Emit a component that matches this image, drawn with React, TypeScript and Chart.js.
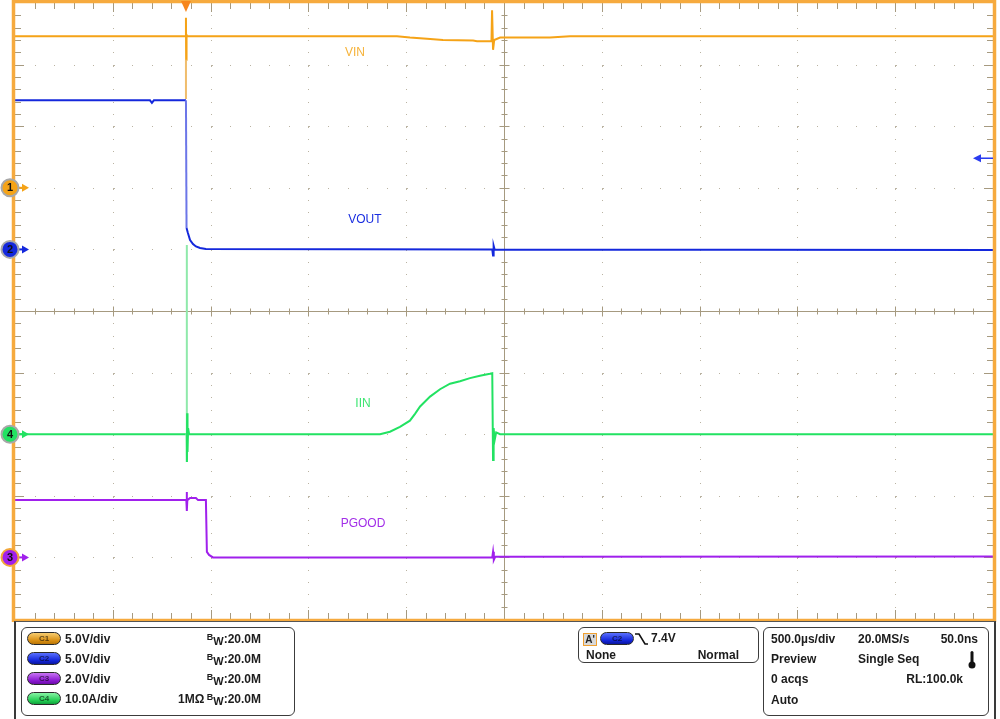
import React, { useEffect, useRef } from "react";
import { Chart, registerables } from "chart.js";

Chart.register(...registerables);

// Horizontal: 500 µs/div, 10 divisions; time measured from the left edge of the screen
const US_PER_DIV = 500;
const X_DIVS = 10;
const Y_DIVS = 10;

const TRIGGER_TIME_US = 874;
const TRIGGER_LEVEL_V = 7.4; // trigger on C2

// Channels C1..C4
const channelNames = ["VIN", "VOUT", "PGOOD", "IIN"];
const channelScale = [5, 5, 2, 10]; // V/div, V/div, V/div, A/div
const channelOffset = [2, 1, -4, -2]; // divisions

// C1 VIN (V)
const vinTime = [0, 872, 874, 875, 877, 880, 1953, 2019, 2106, 2188, 2342, 2362, 2428, 2436, 2439, 2444, 2450, 2480, 2735, 2837, 5000];
const vinVolts = [12.3, 12.3, 13.8, 10.4, 12.4, 12.3, 12.3, 12.2, 12.1, 12.0, 11.95, 11.9, 11.9, 11.9, 14.4, 11.2, 12.0, 12.2, 12.2, 12.3, 12.3];
const vinEdgeTime = [874, 874];
const vinEdgeVolts = [10.4, 7.2];

// C2 VOUT (V)
const voutTime = [0, 690, 700, 710, 874, 877, 884, 895, 910, 925, 946, 976, 2440, 2444, 2447, 2452, 5000];
const voutVolts = [12.1, 12.1, 11.9, 12.1, 12.1, 1.74, 1.33, 0.76, 0.44, 0.24, 0.11, 0.03, 0.0, -0.5, 0.3, 0.0, -0.05];

// C3 PGOOD (V)
const pgoodTime = [0, 876, 878, 879, 881, 895, 925, 936, 976, 981, 992, 1012, 2440, 2444, 2448, 2455, 5000];
const pgoodVolts = [1.86, 1.86, 2.12, 1.51, 1.86, 1.93, 1.93, 1.86, 1.86, 0.18, 0.08, 0.0, 0.0, 0.18, -0.08, 0.02, 0.03];

// C4 IIN (A)
const iinTime = [0, 876, 878, 879, 880, 882, 885, 890, 1866, 1917, 1968, 2019, 2045, 2071, 2122, 2173, 2224, 2275, 2326, 2377, 2428, 2440, 2444, 2447, 2452, 2460, 2480, 5000];
const iinAmps = [0, 0, 30.7, -4.5, 3.4, -2.9, 1.0, 0, 0, 0.4, 1.2, 2.2, 3.3, 4.5, 6.1, 7.3, 8.2, 8.6, 9.1, 9.5, 9.8, 9.9, -4.2, 1.0, -1.0, 0.3, 0, 0];

const traceColor = ["#f5a317", "#1428dc", "#a020ec", "#22e262"];
const edgeColor = ["#f0bd6c", "#6c76e8", "#c47cf0", "#8fe9aa"];
const markerRing = ["#a8a8a8", "#a8a8a8", "#f2a83a", "#a8a8a8"];

// label placement (time µs, divisions)
const labelTime = [1738, 1789, 1779, 1779];
const labelDiv = [4.2, 1.49, -3.46, -1.51];

const toDiv = (ch: number, v: number) => v / channelScale[ch] + channelOffset[ch];
const series = (ch: number, t: number[], v: number[]) => t.map((x, i) => ({ x, y: toDiv(ch, v[i]) }));

const FONT = 'Arial, "Liberation Sans", sans-serif';

const scopePlugin = {
  id: "scope",
  beforeDatasetsDraw(chart: any) {
    const { ctx, chartArea: a, scales } = chart;
    const xs = scales.x;
    const ys = scales.y;
    const px = (d: number) => xs.getPixelForValue(d * US_PER_DIV);
    const py = (d: number) => ys.getPixelForValue(d);
    ctx.save();
    ctx.fillStyle = "#bab3a2";
    for (let i = 1; i < X_DIVS; i++) {
      if (i === 5) continue;
      const x = Math.round(px(i));
      for (let j = 1; j < Y_DIVS * 5; j++) {
        const y = Math.round(py(-5 + j / 5));
        ctx.fillRect(x, y, j % 5 === 0 ? 2 : 1, 1);
      }
    }
    for (let k = 1; k < Y_DIVS; k++) {
      if (k === 5) continue;
      const y = Math.round(py(-5 + k));
      for (let j = 1; j < X_DIVS * 5; j++) {
        const x = Math.round(px(j / 5));
        ctx.fillRect(x, y, 1, j % 5 === 0 ? 2 : 1);
      }
    }
    // center crosshair
    const cx = Math.round(px(5)) + 0.5;
    const cy = Math.round(py(0)) + 0.5;
    ctx.strokeStyle = "#a69a80";
    ctx.lineWidth = 1;
    ctx.beginPath();
    ctx.moveTo(cx, a.top);
    ctx.lineTo(cx, a.bottom);
    ctx.moveTo(a.left, cy);
    ctx.lineTo(a.right, cy);
    for (let j = 1; j < Y_DIVS * 5; j++) {
      const y = Math.round(py(-5 + j / 5)) + 0.5;
      const len = j % 5 === 0 ? 5 : 3;
      ctx.moveTo(cx - len, y);
      ctx.lineTo(cx + len, y);
    }
    for (let j = 1; j < X_DIVS * 5; j++) {
      const x = Math.round(px(j / 5)) + 0.5;
      const len = j % 5 === 0 ? 5 : 3;
      ctx.moveTo(x, cy - len);
      ctx.lineTo(x, cy + len);
    }
    // edge ticks
    for (let j = 1; j < Y_DIVS * 5; j++) {
      const y = Math.round(py(-5 + j / 5)) + 0.5;
      const len = j % 5 === 0 ? 9 : 6;
      ctx.moveTo(a.left, y);
      ctx.lineTo(a.left + len, y);
      ctx.moveTo(a.right, y);
      ctx.lineTo(a.right - len, y);
    }
    for (let j = 1; j < X_DIVS * 5; j++) {
      const x = Math.round(px(j / 5)) + 0.5;
      const len = j % 5 === 0 ? 9 : 6;
      ctx.moveTo(x, a.top);
      ctx.lineTo(x, a.top + len);
      ctx.moveTo(x, a.bottom);
      ctx.lineTo(x, a.bottom - len);
    }
    ctx.stroke();
    ctx.restore();
  },
  afterDraw(chart: any) {
    const { ctx, chartArea: a, scales } = chart;
    const xs = scales.x;
    const ys = scales.y;
    ctx.save();
    // orange graticule frame
    ctx.strokeStyle = "#f6aa3e";
    ctx.lineWidth = 3.5;
    ctx.strokeRect(a.left - 1.5, a.top - 1.5, a.right - a.left + 3, a.bottom - a.top + 3);

    // trace labels
    ctx.font = `12px ${FONT}`;
    ctx.textAlign = "center";
    ctx.textBaseline = "middle";
    const labelColors = ["#f6b33a", "#1a2ee0", "#a22ee8", "#3fe673"];
    for (let ch = 0; ch < 4; ch++) {
      ctx.fillStyle = labelColors[ch];
      ctx.fillText(channelNames[ch], xs.getPixelForValue(labelTime[ch]), ys.getPixelForValue(labelDiv[ch]));
    }

    // trigger position marker (top)
    const tx = xs.getPixelForValue(TRIGGER_TIME_US);
    ctx.fillStyle = "#f7861c";
    ctx.beginPath();
    ctx.moveTo(tx - 5, a.top - 2);
    ctx.lineTo(tx + 5, a.top - 2);
    ctx.lineTo(tx, a.top + 9);
    ctx.closePath();
    ctx.fill();

    // trigger level marker (right, C2)
    const ty = ys.getPixelForValue(toDiv(1, TRIGGER_LEVEL_V));
    ctx.strokeStyle = "#2a3cf0";
    ctx.fillStyle = "#2a3cf0";
    ctx.lineWidth = 1.5;
    ctx.beginPath();
    ctx.moveTo(a.right - 12, ty);
    ctx.lineTo(a.right, ty);
    ctx.stroke();
    ctx.beginPath();
    ctx.moveTo(a.right - 20, ty);
    ctx.lineTo(a.right - 12, ty - 4);
    ctx.lineTo(a.right - 12, ty + 4);
    ctx.closePath();
    ctx.fill();

    // channel ground markers (left)
    const mx = 10;
    for (let ch = 0; ch < 4; ch++) {
      const y = ys.getPixelForValue(channelOffset[ch]);
      ctx.strokeStyle = traceColor[ch];
      ctx.fillStyle = traceColor[ch];
      ctx.lineWidth = 2;
      ctx.beginPath();
      ctx.moveTo(mx + 8, y);
      ctx.lineTo(mx + 14, y);
      ctx.stroke();
      ctx.beginPath();
      ctx.moveTo(mx + 12, y - 4);
      ctx.lineTo(mx + 19, y);
      ctx.lineTo(mx + 12, y + 4);
      ctx.closePath();
      ctx.fill();
      ctx.beginPath();
      ctx.arc(mx, y, 8.5, 0, Math.PI * 2);
      ctx.fillStyle = traceColor[ch];
      ctx.fill();
      ctx.lineWidth = 2;
      ctx.strokeStyle = markerRing[ch];
      ctx.stroke();
      ctx.fillStyle = "#111";
      ctx.font = `bold 11px ${FONT}`;
      ctx.textAlign = "center";
      ctx.textBaseline = "middle";
      ctx.fillText(String(ch + 1), mx, y + 0.5);
    }
    ctx.restore();
  },
};

function ScopeChart() {
  const ref = useRef<HTMLCanvasElement | null>(null);
  useEffect(() => {
    if (!ref.current) return;
    const mk = (ch: number, data: any[], color: string, edge: string) => ({
      data,
      borderColor: color,
      borderWidth: 2,
      pointRadius: 0,
      tension: 0,
      fill: false,
      segment: {
        borderColor: (c: any) => (Math.abs(c.p0.y - c.p1.y) > 100 ? edge : color),
      },
    });
    const chart = new Chart(ref.current, {
      type: "line",
      data: {
        datasets: [
          mk(0, series(0, vinEdgeTime, vinEdgeVolts), edgeColor[0], edgeColor[0]),
          mk(0, series(0, vinTime, vinVolts), traceColor[0], edgeColor[0]),
          mk(1, series(1, voutTime, voutVolts), traceColor[1], edgeColor[1]),
          mk(3, series(3, iinTime, iinAmps), traceColor[3], edgeColor[3]),
          mk(2, series(2, pgoodTime, pgoodVolts), traceColor[2], edgeColor[2]),
        ],
      },
      options: {
        responsive: false,
        animation: false,
        events: [],
        layout: { padding: { left: 15, right: 7, top: 3, bottom: 3 } },
        plugins: { legend: { display: false }, tooltip: { enabled: false }, title: { display: false } },
        scales: {
          x: { type: "linear", min: 0, max: US_PER_DIV * X_DIVS, display: false },
          y: { type: "linear", min: -Y_DIVS / 2, max: Y_DIVS / 2, display: false },
        },
      },
      plugins: [scopePlugin],
    } as any);
    return () => chart.destroy();
  }, []);
  return <canvas ref={ref} width={1000} height={622} style={{ position: "absolute", left: 0, top: 0, width: 1000, height: 622 }} />;
}

const txt: React.CSSProperties = {
  position: "absolute",
  fontFamily: FONT,
  fontWeight: "bold",
  fontSize: 12,
  color: "#1c1c1c",
  height: 16,
  lineHeight: "16px",
  whiteSpace: "nowrap",
};

function T({ x, y, children, right }: { x: number; y: number; children: any; right?: boolean }) {
  if (right) {
    return <div style={{ ...txt, left: x - 200, width: 200, top: y - 8, textAlign: "right" }}>{children}</div>;
  }
  return <div style={{ ...txt, left: x, top: y - 8 }}>{children}</div>;
}

const pillGrad = [
  "linear-gradient(#f7cd70, #d88e12 70%, #b87608)",
  "linear-gradient(#5a70ff, #1224d8 70%, #0a169c)",
  "linear-gradient(#c874f4, #8a18d0 70%, #6a0ca8)",
  "linear-gradient(#86f4a4, #22cc52 70%, #12a03c)",
];

function Pill({ x, y, ch }: { x: number; y: number; ch: number }) {
  return (
    <div
      style={{
        position: "absolute",
        left: x,
        top: y - 7,
        width: 34,
        height: 13,
        boxSizing: "border-box",
        borderRadius: 7,
        border: "1px solid #2a2a2a",
        background: pillGrad[ch],
        fontFamily: FONT,
        fontSize: 8,
        fontWeight: "bold",
        color: "rgba(0,0,0,0.6)",
        textAlign: "center",
        lineHeight: "11px",
      }}
    >
      {"C" + (ch + 1)}
    </div>
  );
}

const perDivText = ["5.0V/div", "5.0V/div", "2.0V/div", "10.0A/div"];
const rowY = [639, 659, 679, 699];

function BW() {
  return (
    <span>
      <span style={{ fontSize: 9, position: "relative", top: -3 }}>B</span>
      <span style={{ fontSize: 11, position: "relative", top: 2 }}>W</span>:20.0M
    </span>
  );
}

const box: React.CSSProperties = {
  position: "absolute",
  boxSizing: "border-box",
  border: "1px solid #3c3c3c",
  borderRadius: 6,
};

export default function App() {
  return (
    <div style={{ position: "absolute", left: 0, top: 0, width: 1000, height: 719, background: "#fff", overflow: "hidden" }}>
      <ScopeChart />
      <div
        style={{
          position: "absolute",
          left: 14,
          top: 621,
          width: 982,
          height: 100,
          boxSizing: "border-box",
          borderLeft: "2px solid #3a3a3a",
          borderRight: "2px solid #3a3a3a",
          borderTop: "1px solid #555",
        }}
      />
      {/* vertical settings */}
      <div style={{ ...box, left: 21, top: 627, width: 274, height: 89 }} />
      {rowY.map((y, i) => (
        <React.Fragment key={i}>
          <Pill x={27} y={y} ch={i} />
          <T x={65} y={y}>{perDivText[i]}</T>
          <T x={261} y={y} right>
            <BW />
          </T>
        </React.Fragment>
      ))}
      <T x={178} y={rowY[3]}>1MΩ</T>

      {/* trigger */}
      <div style={{ ...box, left: 578, top: 627, width: 181, height: 36 }} />
      <div
        style={{
          position: "absolute",
          left: 583,
          top: 633,
          width: 14,
          height: 13,
          boxSizing: "border-box",
          border: "1px solid #f0a030",
          background: "#d8d8d8",
          fontFamily: FONT,
          fontSize: 10,
          fontWeight: "bold",
          lineHeight: "11px",
          textAlign: "center",
          color: "#222",
        }}
      >
        A'
      </div>
      <Pill x={600} y={639} ch={1} />
      <svg style={{ position: "absolute", left: 635, top: 632 }} width={14} height={14}>
        <polyline points="0,2 4,2 10,12 13,12" fill="none" stroke="#111" strokeWidth={1.6} />
      </svg>
      <T x={651} y={638}>7.4V</T>
      <T x={586} y={655}>None</T>
      <T x={739} y={655} right>Normal</T>

      {/* horizontal / acquisition */}
      <div style={{ ...box, left: 763, top: 627, width: 226, height: 89 }} />
      <T x={771} y={639}>500.0µs/div</T>
      <T x={858} y={639}>20.0MS/s</T>
      <T x={978} y={639} right>50.0ns</T>
      <T x={771} y={659}>Preview</T>
      <T x={858} y={659}>Single Seq</T>
      <svg style={{ position: "absolute", left: 967, top: 651 }} width={10} height={19}>
        <rect x={3.5} y={0} width={3} height={13} fill="#111" rx={1.5} />
        <circle cx={5} cy={14} r={3.5} fill="#111" />
      </svg>
      <T x={771} y={679}>0 acqs</T>
      <T x={963} y={679} right>RL:100.0k</T>
      <T x={771} y={700}>Auto</T>
    </div>
  );
}
